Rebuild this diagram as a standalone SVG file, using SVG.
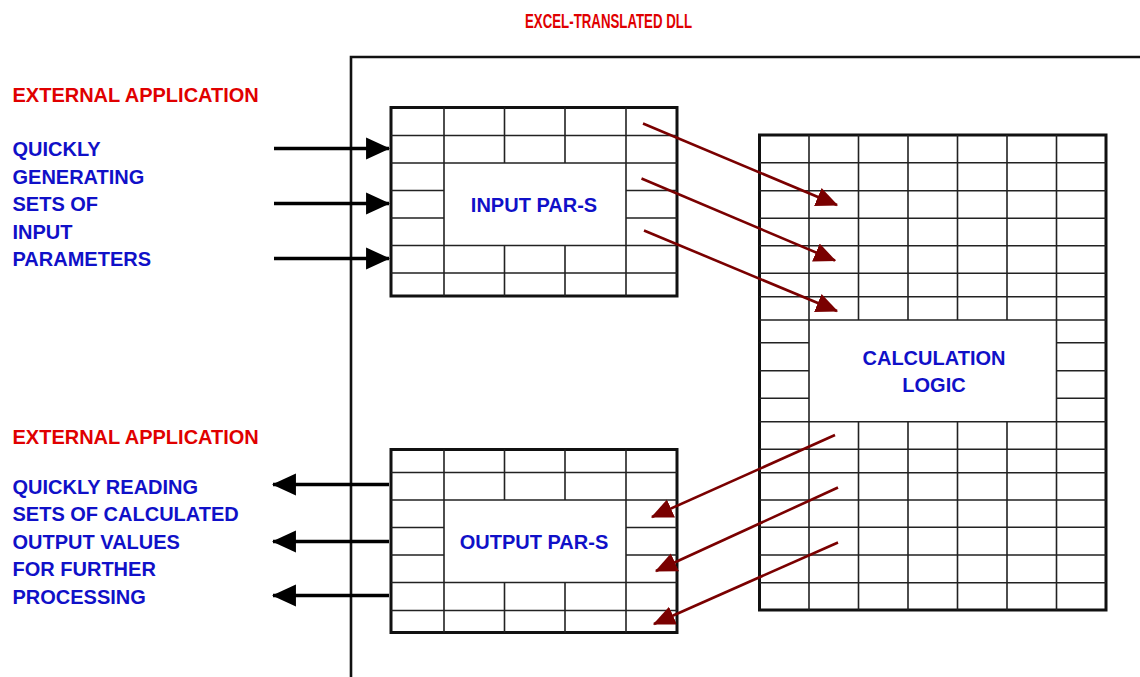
<svg xmlns="http://www.w3.org/2000/svg" width="1140" height="677" viewBox="0 0 1140 677">
<style>
.bg{fill:#ffffff}
.outer{fill:#ffffff;stroke:#111;stroke-width:3}
.gl{stroke:#222;stroke-width:1.6;fill:none}
.red{font-family:"Liberation Sans",Arial,sans-serif;font-weight:bold;font-size:20px;fill:#e00000}
.title{font-size:19.5px}
.blue{font-family:"Liberation Sans",Arial,sans-serif;font-weight:bold;font-size:20px;fill:#1010c8}
.ctr{text-anchor:middle}
.blk{stroke:#000;stroke-width:3.6;fill:none}
.drd{stroke:#7a0000;stroke-width:2.6;fill:none}
</style>
<defs>
<marker id="ah-black" markerUnits="userSpaceOnUse" markerWidth="24" markerHeight="24" viewBox="0 0 22 20" refX="21" refY="10" orient="auto">
<path d="M0,0 L22,10 L0,20 Z" fill="#000"/>
</marker>
<marker id="ah-red" markerUnits="userSpaceOnUse" markerWidth="22" markerHeight="22" viewBox="0 0 18 16" refX="17" refY="8" orient="auto">
<path d="M0,0 L18,8 L0,16 Z" fill="#7a0000"/>
</marker>
</defs>
<rect class="bg" x="0" y="0" width="1140" height="677"/>

<g id="dll-box">
<path d="M351,677 V57 H1140" fill="none" stroke="#111" stroke-width="2.6"/>
<text class="red title" x="608.5" y="27.5" text-anchor="middle" textLength="167" lengthAdjust="spacingAndGlyphs">EXCEL-TRANSLATED DLL</text>
</g>

<g id="ext-app-input">
<text class="red" x="12.5" y="102">EXTERNAL APPLICATION</text>
<text class="blue" x="12.5" y="156">QUICKLY</text>
<text class="blue" x="12.5" y="183.5">GENERATING</text>
<text class="blue" x="12.5" y="211">SETS OF</text>
<text class="blue" x="12.5" y="238.5">INPUT</text>
<text class="blue" x="12.5" y="266">PARAMETERS</text>
</g>

<g id="ext-app-output">
<text class="red" x="12.5" y="443.5">EXTERNAL APPLICATION</text>
<text class="blue" x="12.5" y="493.5">QUICKLY READING</text>
<text class="blue" x="12.5" y="521">SETS OF CALCULATED</text>
<text class="blue" x="12.5" y="548.5">OUTPUT VALUES</text>
<text class="blue" x="12.5" y="576">FOR FURTHER</text>
<text class="blue" x="12.5" y="603.5">PROCESSING</text>
</g>

<g id="input-pars">
<rect class="outer" x="391" y="107.5" width="286" height="188.5"/>
<path class="gl" d="M391,135.5 H677 M391,163 H677 M391,245.5 H677 M391,273 H677
M391,190.5 H444 M391,218 H444 M626,190.5 H677 M626,218 H677
M444,107.5 V296 M626,107.5 V296
M504.5,107.5 V163 M565,107.5 V163 M504.5,245.5 V296 M565,245.5 V296"/>
<text class="blue ctr" x="534" y="212">INPUT PAR-S</text>
</g>

<g id="output-pars">
<rect class="outer" x="391" y="449.5" width="286" height="183"/>
<path class="gl" d="M391,472.5 H677 M391,500 H677 M391,582.5 H677 M391,610.5 H677
M391,527.5 H444 M391,555 H444 M626,527.5 H677 M626,555 H677
M444,449.5 V632.5 M626,449.5 V632.5
M504.5,449.5 V500 M565,449.5 V500 M504.5,582.5 V632.5 M565,582.5 V632.5"/>
<text class="blue ctr" x="534" y="548.5">OUTPUT PAR-S</text>
</g>

<g id="calculation-logic">
<rect class="outer" x="759.5" y="135" width="346.5" height="475"/>
<path class="gl" d="M759.5,162.7 H1106 M759.5,190.7 H1106 M759.5,218.3 H1106 M759.5,245.7 H1106 M759.5,273.3 H1106 M759.5,296.7 H1106 M759.5,320 H1106
M759.5,421.7 H1106 M759.5,449.3 H1106 M759.5,472.7 H1106 M759.5,500 H1106 M759.5,527.3 H1106 M759.5,555 H1106 M759.5,582.7 H1106
M759.5,342.7 H809 M759.5,370.7 H809 M759.5,398.3 H809
M1056.5,342.7 H1106 M1056.5,370.7 H1106 M1056.5,398.3 H1106
M809,135 V610 M1056.5,135 V610
M858.5,135 V320 M908,135 V320 M957.5,135 V320 M1007,135 V320
M858.5,421.7 V610 M908,421.7 V610 M957.5,421.7 V610 M1007,421.7 V610"/>
<text class="blue ctr" x="934" y="365">CALCULATION</text>
<text class="blue ctr" x="934" y="392">LOGIC</text>
</g>

<g id="connectors">
<path class="blk" d="M274,148.5 H389" marker-end="url(#ah-black)"/>
<path class="blk" d="M274,203.5 H389" marker-end="url(#ah-black)"/>
<path class="blk" d="M274,258.5 H389" marker-end="url(#ah-black)"/>
<path class="blk" d="M389,484.5 H273" marker-end="url(#ah-black)"/>
<path class="blk" d="M389,541.5 H273" marker-end="url(#ah-black)"/>
<path class="blk" d="M389,595.5 H273" marker-end="url(#ah-black)"/>
<path class="drd" d="M643,123.5 L837,205" marker-end="url(#ah-red)"/>
<path class="drd" d="M641.5,178.5 L835,260.5" marker-end="url(#ah-red)"/>
<path class="drd" d="M644,230.5 L837,311" marker-end="url(#ah-red)"/>
<path class="drd" d="M835,435 L652,517" marker-end="url(#ah-red)"/>
<path class="drd" d="M838,487.5 L656,571" marker-end="url(#ah-red)"/>
<path class="drd" d="M838,542.5 L654,624" marker-end="url(#ah-red)"/>
</g>
</svg>
